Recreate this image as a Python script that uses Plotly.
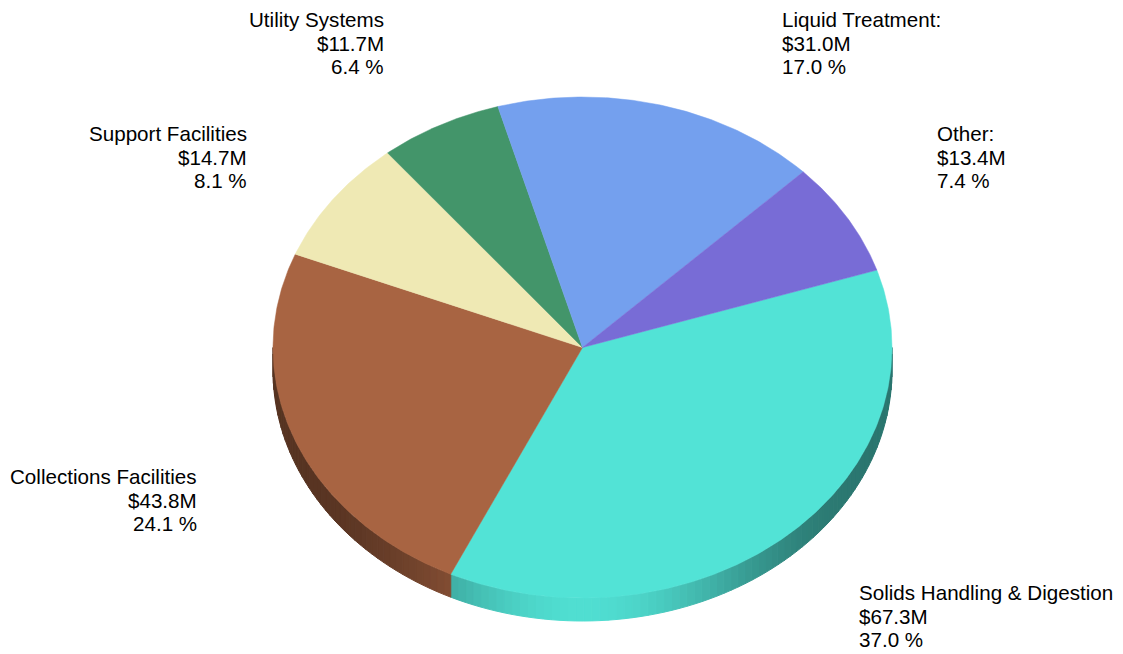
import math
import plotly.graph_objects as go

# ---- data ----
categories = ["Solids Handling & Digestion", "Collections Facilities", "Support Facilities",
              "Utility Systems", "Liquid Treatment:", "Other:"]
values_musd = [67.3, 43.8, 14.7, 11.7, 31.0, 13.4]
percents = [37.0, 24.1, 8.1, 6.4, 17.0, 7.4]
colors = ["#52E3D6", "#A86442", "#EFE9B4", "#43956A", "#74A0EE", "#786CD6"]

# ---- layout / styling (pixels) ----
W, H = 1123, 654
CX, CY, RX, RY, DEPTH = 582.5, 347.5, 309.5, 250.5, 23
START_DEG = 18.0
# label anchors: (x, first-line baseline y, side)
label_layout = [
    (857, 600, "left"),
    (199, 484, "right"),
    (249, 141, "right"),
    (386, 27, "right"),
    (780, 27, "left"),
    (935, 141, "left"),
]
FONT = "Liberation Sans, Arial, sans-serif"
FONT_SIZE = 20.6
LINE_STEP = 23.7


def hex2rgb(h):
    h = h.lstrip("#")
    return tuple(int(h[i:i + 2], 16) for i in (0, 2, 4))


def shade(hexcol, f):
    r, g, b = hex2rgb(hexcol)
    return "rgb(%d,%d,%d)" % (min(255, r * f), min(255, g * f), min(255, b * f))


def pt(tdeg, dy=0.0):
    t = math.radians(tdeg)
    return CX + RX * math.cos(t), CY - RY * math.sin(t) + dy


fig = go.Figure()
total = sum(values_musd)

# slice angle spans (clockwise, decreasing)
spans = []
a = START_DEG
for v in values_musd:
    b = a - 360.0 * v / total
    spans.append((a, b))
    a = b

# ---- side walls (visible lower half) ----
for (a, b), col in zip(spans, colors):
    for lo_lim, hi_lim in ((-180.0, 0.0), (-540.0, -360.0)):
        hi = min(a, hi_lim)
        lo = max(b, lo_lim)
        if hi <= lo:
            continue
        n = max(1, int(math.ceil((hi - lo) / 1.5)))
        for i in range(n):
            t1 = hi - (hi - lo) * i / n
            t2 = hi - (hi - lo) * (i + 1) / n
            tm = (t1 + t2) / 2
            d = math.radians(((tm + 90 + 180) % 360) - 180)
            c = max(0.0, math.cos(d))
            f = 0.52 + 0.46 * c ** 6
            xs, ys = [], []
            for t in (t1, t2):
                x, y = pt(t)
                xs.append(x); ys.append(y)
            for t in (t2, t1):
                x, y = pt(t, DEPTH)
                xs.append(x); ys.append(y)
            xs.append(xs[0]); ys.append(ys[0])
            sc = shade(col, f)
            fig.add_trace(go.Scatter(x=xs, y=ys, mode="lines", fill="toself",
                                     fillcolor=sc, line=dict(color=sc, width=1),
                                     hoverinfo="skip", showlegend=False))

# ---- top faces ----
for (a, b), col in zip(spans, colors):
    n = max(2, int(abs(a - b) / 0.5))
    xs, ys = [CX], [CY]
    for i in range(n + 1):
        x, y = pt(a + (b - a) * i / n)
        xs.append(x); ys.append(y)
    xs.append(CX); ys.append(CY)
    fig.add_trace(go.Scatter(x=xs, y=ys, mode="lines", fill="toself",
                             fillcolor=col, line=dict(color=col, width=0.5),
                             hoverinfo="skip", showlegend=False))

# ---- labels (one annotation per line for tight line spacing) ----
for name, v, p, (lx, ly, side) in zip(categories, values_musd, percents, label_layout):
    lines = [name, "$%.1fM" % v, "%.1f %%" % p]
    for k, line in enumerate(lines):
        base = ly + k * LINE_STEP
        fig.add_annotation(x=lx, y=base - 0.36 * FONT_SIZE, xref="x", yref="y",
                           text=line, showarrow=False,
                           xanchor=side, yanchor="middle", align=side,
                           font=dict(family=FONT, size=FONT_SIZE, color="#000000"))

fig.update_layout(
    width=W, height=H, margin=dict(l=0, r=0, t=0, b=0),
    paper_bgcolor="white", plot_bgcolor="white",
    xaxis=dict(range=[0, W], visible=False, fixedrange=True),
    yaxis=dict(range=[H, 0], visible=False, fixedrange=True),
    showlegend=False,
)
fig.write_html("out.html")
